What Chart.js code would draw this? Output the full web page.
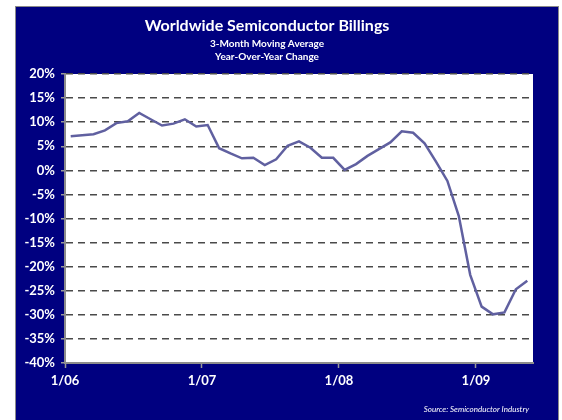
<!DOCTYPE html>
<html>
<head>
<meta charset="utf-8">
<script src="https://cdn.jsdelivr.net/npm/chart.js@4.4.0/dist/chart.umd.min.js"></script>
<style>
  html, body { margin: 0; padding: 0; background: #fff; }
  #wrap { width: 562px; height: 420px; }
</style>
</head>
<body>
<div id="wrap"><canvas id="chart" width="562" height="420"></canvas></div>
<script>
// months Jan 06 .. May 09
const months = [
  'Jan 06','Feb 06','Mar 06','Apr 06','May 06','Jun 06','Jul 06','Aug 06','Sep 06','Oct 06','Nov 06','Dec 06',
  'Jan 07','Feb 07','Mar 07','Apr 07','May 07','Jun 07','Jul 07','Aug 07','Sep 07','Oct 07','Nov 07','Dec 07',
  'Jan 08','Feb 08','Mar 08','Apr 08','May 08','Jun 08','Jul 08','Aug 08','Sep 08','Oct 08','Nov 08','Dec 08',
  'Jan 09','Feb 09','Mar 09','Apr 09','May 09'
];
// 3-month moving average, yoy % change
const yoyChange = [
  7.1, 7.3, 7.5, 8.3, 9.8, 10.2, 11.9, 10.6, 9.3, 9.7, 10.6, 9.1,
  9.4, 4.6, 3.5, 2.5, 2.6, 1.1, 2.3, 5.1, 6.0, 4.7, 2.6, 2.6,
  0.1, 1.3, 3.0, 4.4, 5.8, 8.1, 7.8, 5.6, 1.8, -2.2, -9.5, -21.7,
  -28.3, -29.9, -29.5, -24.7, -22.9
];
const xTickLabels = ['1/06', '1/07', '1/08', '1/09'];
const xTickMonths = [0, 12, 24, 36];   // index into months where each label sits (start of month)
const yTicks = [20, 15, 10, 5, 0, -5, -10, -15, -20, -25, -30, -35, -40];

const titleText = 'Worldwide Semiconductor Billings';
const subTitles = ['3-Month Moving Average', 'Year-Over-Year Change'];
const sourceText = 'Source: Semiconductor Industry';

const NAVY = '#000080';
const FONT = 'Lato, "DejaVu Sans", sans-serif';

const frame = {
  id: 'frame',
  beforeDraw(chart) {
    const ctx = chart.ctx;
    const a = chart.chartArea;
    ctx.save();
    ctx.fillStyle = NAVY;
    ctx.fillRect(16, 7, 542, 413);
    ctx.strokeStyle = '#8a8a8a';
    ctx.lineWidth = 1;
    ctx.strokeRect(15.5, 6.5, 543, 414);
    ctx.fillStyle = '#ffffff';
    ctx.fillRect(a.left, a.top, a.right - a.left, a.bottom - a.top);

    ctx.fillStyle = '#ffffff';
    ctx.textAlign = 'center';
    ctx.textBaseline = 'middle';
    ctx.font = 'bold 16px ' + FONT;
    ctx.fillText(titleText, 267, 26);
    ctx.font = 'bold 10px ' + FONT;
    ctx.fillText(subTitles[0], 267, 44);
    ctx.fillText(subTitles[1], 267, 57);

    ctx.textAlign = 'right';
    ctx.font = 'italic 8px ' + FONT;
    ctx.fillText(sourceText, 529, 409);
    ctx.restore();
  }
};

const points = yoyChange.map((v, i) => ({ x: i, y: v }));

new Chart(document.getElementById('chart'), {
  type: 'line',
  data: {
    labels: months,
    datasets: [{
      label: 'YoY change',
      data: points,
      borderColor: '#6060a0',
      borderWidth: 2.5,
      pointRadius: 0,
      tension: 0,
      fill: false
    }]
  },
  options: {
    responsive: false,
    animation: false,
    layout: { padding: { left: 0, right: 29, top: 74, bottom: 17 } },
    plugins: {
      legend: { display: false },
      tooltip: { enabled: false }
    },
    scales: {
      x: {
        type: 'linear',
        min: -0.5,
        max: months.length - 0.5,
        afterBuildTicks(scale) {
          scale.ticks = xTickMonths.map(m => ({ value: m - 0.5 }));
        },
        afterFit(scale) { scale.height = 40; },
        ticks: {
          color: '#ffffff',
          font: { family: FONT, size: 13, weight: 'bold' },
          padding: 5,
          maxRotation: 0,
          autoSkip: false,
          callback: (v) => {
            const idx = xTickMonths.indexOf(Math.round(v + 0.5));
            return idx >= 0 ? xTickLabels[idx] : '';
          }
        },
        grid: {
          drawOnChartArea: false,
          drawTicks: true,
          tickLength: 5,
          tickColor: '#9a9a9a',
          tickWidth: 1.5
        },
        border: { display: true, color: '#8c8c8c', width: 2 }
      },
      y: {
        min: -40,
        max: 20,
        afterBuildTicks(scale) {
          scale.ticks = yTicks.map(v => ({ value: v }));
        },
        afterFit(scale) { scale.width = 65; },
        ticks: {
          color: '#ffffff',
          font: { family: FONT, size: 13, weight: 'bold' },
          padding: 6,
          callback: (v) => v + '%'
        },
        grid: {
          color: '#4a4a4a',
          lineWidth: 1.5,
          drawTicks: true,
          tickLength: 4,
          tickColor: '#9a9a9a',
          tickWidth: 1.5,
          tickBorderDash: []
        },
        border: { display: true, color: '#8c8c8c', width: 2, dash: [7, 5] }
      }
    }
  },
  plugins: [frame]
});
</script>
</body>
</html>
